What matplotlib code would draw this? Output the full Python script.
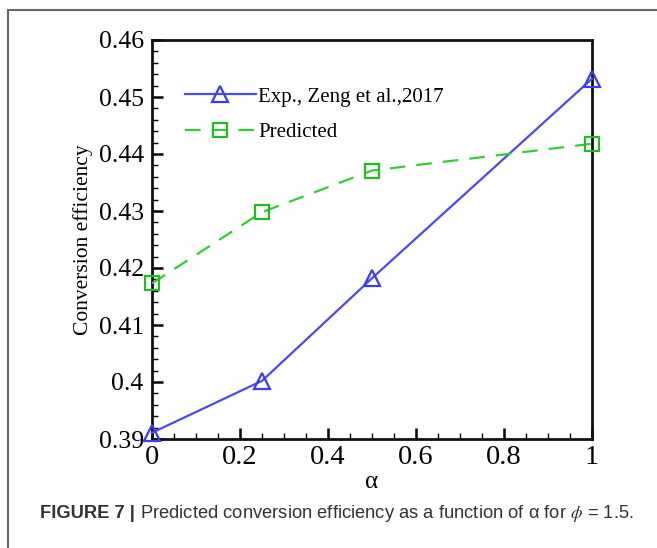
import matplotlib
matplotlib.use("Agg")
import matplotlib.pyplot as plt
from matplotlib.ticker import FixedLocator, FixedFormatter, MultipleLocator
from matplotlib.patches import Rectangle

plt.rcParams["mathtext.fontset"] = "stix"

# ---- data ----
alpha = [0.0, 0.25, 0.5, 1.0]
exp_eff = [0.3911, 0.4002, 0.4182, 0.4532]
pred_eff = [0.4173, 0.4298, 0.4371, 0.4418]
exp_label = "Exp., Zeng et al.,2017"
pred_label = "Predicted"
yticks = [0.39, 0.40, 0.41, 0.42, 0.43, 0.44, 0.45, 0.46]
yticklabels = ["0.39", "0.4", "0.41", "0.42", "0.43", "0.44", "0.45", "0.46"]
xticks = [0, 0.2, 0.4, 0.6, 0.8, 1.0]
xticklabels = ["0", "0.2", "0.4", "0.6", "0.8", "1"]

W, H = 657, 548
fig = plt.figure(figsize=(W / 100, H / 100), dpi=100)
fig.patch.set_facecolor("white")

serif = ["Liberation Serif", "DejaVu Serif"]
sans = ["Liberation Sans", "DejaVu Sans"]

ax = fig.add_axes([152 / W, 1 - 439 / H, (592 - 152) / W, (439 - 40) / H])
ax.plot(alpha, exp_eff, color="#4a4af0", lw=1.6, marker="^", ms=11,
        mfc="none", mec="#3b3bf0", mew=1.6, label=exp_label, clip_on=False, zorder=3)
ax.plot(alpha, pred_eff, color="#33cc33", lw=1.6, ls=(0, (7, 5)), marker="s", ms=9.5,
        mfc="none", mec="#22bb22", mew=1.6, label=pred_label, clip_on=False, zorder=3)

ax.set_xlim(0, 1)
ax.set_ylim(0.39, 0.46)
ax.yaxis.set_major_locator(FixedLocator(yticks))
ax.yaxis.set_major_formatter(FixedFormatter(yticklabels))
ax.xaxis.set_major_locator(FixedLocator(xticks))
ax.xaxis.set_major_formatter(FixedFormatter(xticklabels))
ax.yaxis.set_minor_locator(MultipleLocator(0.002))
ax.xaxis.set_minor_locator(MultipleLocator(0.05))
ax.tick_params(which="both", direction="in", top=False, right=False, color="black")
ax.tick_params(which="major", length=8, width=1.8)
ax.tick_params(which="minor", length=4.5, width=1.0)
ax.tick_params(axis="y", which="major", pad=6)
ax.tick_params(axis="x", which="major", pad=4)
for lab in ax.get_yticklabels():
    lab.set_fontfamily(serif)
    lab.set_fontsize(18.5)
for lab in ax.get_xticklabels():
    lab.set_fontfamily(serif)
    lab.set_fontsize(20.5)
for s in ax.spines.values():
    s.set_linewidth(2.0)
    s.set_color("#111111")

ax.set_ylabel("Conversion efficiency", fontfamily=serif, fontsize=15.5, labelpad=4)
ax.set_xlabel("α", fontfamily=serif, fontsize=18, labelpad=1)

leg = ax.legend(loc="upper left", bbox_to_anchor=(0.075, 0.882), frameon=False,
                prop={"family": serif, "size": 15}, handlelength=3.4,
                handletextpad=0.1, labelspacing=0.75, borderaxespad=0, borderpad=0)

# outer frame (left and top edges visible)
fig.patches.append(Rectangle((8 / W, -0.05), 1.2, 1 - 10 / H + 0.05,
                             transform=fig.transFigure, fill=False,
                             edgecolor="#666666", lw=1.5))

cap_y = 1 - 518 / H
bold = fig.text(40 / W, cap_y, "FIGURE 7 |", fontsize=13.2, fontweight="bold",
                fontfamily=sans, va="baseline", ha="left", color="#333333")
fig.canvas.draw()
bb = bold.get_window_extent(renderer=fig.canvas.get_renderer())
x2 = (bb.x1 + 5) / W
fig.text(x2, cap_y, r"Predicted conversion efficiency as a function of α for $\phi$ = 1.5.",
         fontsize=13.2, fontfamily=sans, va="baseline", ha="left", color="#333333")

fig.savefig("out.png", dpi=100)
